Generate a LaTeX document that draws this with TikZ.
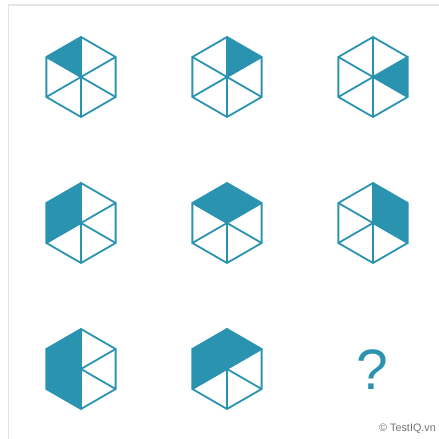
\documentclass[tikz,border=0pt]{standalone}
\usepackage{fontspec}
\setmainfont{Liberation Sans}
\usetikzlibrary{calc}

\definecolor{iqteal}{HTML}{2A93B0}
\definecolor{framegray}{HTML}{E4E4E4}

\begin{document}
\begin{tikzpicture}[
    x=1pt, y=1pt,
    edge/.style={draw=iqteal, line width=1.8pt, line join=miter},
    face/.style={fill=iqteal, draw=iqteal, line width=0.6pt, line join=round},
    frame/.style={draw=framegray, line width=1.4pt},
    qmark/.style={text=iqteal, inner sep=0pt, font=\fontsize{57}{60}\selectfont},
    credit/.style={text=black!55, inner sep=0pt, font=\fontsize{10.8}{12}\selectfont},
]
\useasboundingbox (0,0) rectangle (439,439);

% ── frame (left and top only) ────────────────────────────────────────────────
\coordinate (frame-bl) at (8.5,0);
\coordinate (frame-tl) at (8.5,434);
\coordinate (frame-tr) at (439,434);
\draw[frame] (frame-bl) -- (frame-tl) -- (frame-tr);

% ── hexagon centres (rows top to bottom) ─────────────────────────────────────
\coordinate (h11) at (81,362);  \coordinate (h12) at (227,362); \coordinate (h13) at (373,362);
\coordinate (h21) at (81,216);  \coordinate (h22) at (227,216); \coordinate (h23) at (373,216);
\coordinate (h31) at (81,70);   \coordinate (h32) at (227,70);

% ── shaded faces (k = 0 top-left, then counter-clockwise) ────────────────────
\foreach \h/\k in {h11/0, h12/5, h13/4,
                   h21/0, h21/1, h22/0, h22/5, h23/5, h23/4,
                   h31/0, h31/1, h31/2, h32/1, h32/0, h32/5}
    \filldraw[face] (\h) -- ($(\h)+({90+60*\k}:40)$) -- ($(\h)+({150+60*\k}:40)$) -- cycle;

% ── outlines and spokes ──────────────────────────────────────────────────────
\foreach \h in {h11, h12, h13, h21, h22, h23, h31, h32} {
    \draw[edge] ($(\h)+(90:40)$) -- ++(210:40) -- ++(270:40) -- ++(330:40)
                -- ++(30:40) -- ++(90:40) -- cycle;
    \foreach \a in {30,90,...,330}
        \draw[edge] (\h) -- ($(\h)+(\a:40)$);
}

% ── missing cell and credit ──────────────────────────────────────────────────
\node[qmark, anchor=base] (quiz) at (372,49) {?};
\node[credit, anchor=base east] (copy) at (436,8) {© TestIQ.vn};

\end{tikzpicture}
\end{document}
